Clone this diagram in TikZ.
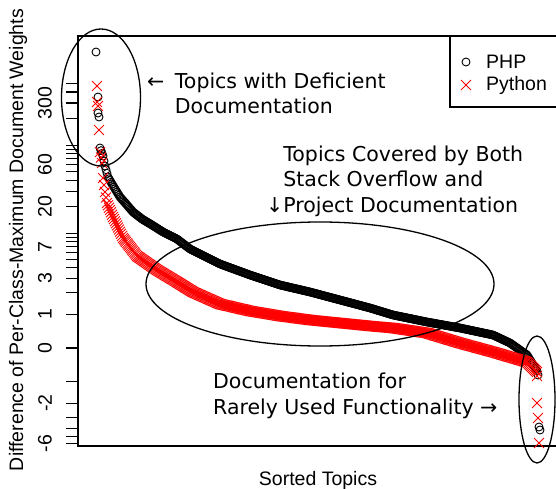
\documentclass[tikz,border=0pt]{standalone}
\usepackage{fontspec}
\setmainfont{Liberation Sans}
\newfontfamily\annofont{DejaVu Sans}
\usetikzlibrary{shapes.misc}

\begin{document}
\begin{tikzpicture}[
  x=1pt, y=-1pt,
  rtext/.style={font=\fontsize{19.5}{23}\selectfont, inner sep=0pt},
  anno/.style={font=\annofont\fontsize{20.5}{25.5}\selectfont, align=left,
               inner sep=0pt, anchor=west},
  phpmark/.style={circle, draw=black, line width=0.9pt, minimum size=8pt, inner sep=0pt},
  pymark/.style={cross out, draw=red, line width=0.9pt, minimum size=9pt, inner sep=0pt},
  plotframe/.style={line width=1.1pt},
  tickline/.style={line width=1.1pt},
  ring/.style={line width=1.3pt},
]
\path[use as bounding box, clip] (0,0) rectangle (556,489);

% axes
\draw[plotframe] (78,36) rectangle (570,446);
\foreach \ty in {83.4,92.0,103.0,118.5,145.1,149.1,153.6,158.7,164.6,171.6,180.2,
                 191.2,206.7,233.2,237.2,241.7,246.7,252.6,259.4,267.8,278.4,292.7,
                 314.2,348,381.8,403.3,417.6,428.2,436.6,443.4}
  \draw[tickline] (66,\ty) -- (78,\ty);
\foreach \ty/\tl in {103/300,164.6/60,206.7/20,246.7/7,278.4/3,314.2/1,348/0,403.3/-2,443.4/-6}
  \node[rtext, rotate=90] at (45,\ty) {\tl};
\node[rtext, rotate=90] (ylab) at (18,240) {Difference of Per-Class-Maximum Document Weights};
\node[rtext] (xlab) at (318,480) {Sorted Topics};

% PHP topics
\foreach \xb/\yb [remember=\xb as \xa (initially 99), remember=\yb as \ya (initially 146)] in
  {100/148,103/156,105/166,108/177,112/184,120/197,127/205,133/212,142/219,152/225,
   163/232,177/239,190/249,200/254,220/264,250/275,280/285,310/292,340/300,370/308,
   393/315,427/322,460/328,493/335,510/343,527/355,537/371}{
  \pgfmathtruncatemacro{\nsteps}{\xb-\xa}
  \foreach \k in {1,...,\nsteps}
    \node[phpmark] at ({\xa+\k},{\ya+(\yb-\ya)*\k/\nsteps}) {};
}
\foreach \px/\py in {96/52,98/97,98/113,99/117,538/375,539/427,540/430}
  \node[phpmark] at (\px,\py) {};

% Python topics
\foreach \xb/\yb [remember=\xb as \xa (initially 99), remember=\yb as \ya (initially 150)] in
  {100/152,102/163,103/178,105/192,107/203,113/217,123/238,137/256,157/270,177/282,
   193/292,220/304,250/311,280/316,310/320,340/323,370/326,393/328,427/333,460/343,
   493/352,510/357,527/362,537/372}{
  \pgfmathtruncatemacro{\nsteps}{\xb-\xa}
  \foreach \k in {1,...,\nsteps}
    \node[pymark] at ({\xa+\k},{\ya+(\yb-\ya)*\k/\nsteps}) {};
}
\foreach \px/\py in {97/86,97/102,98/106,99/130,537/376,537/403,538/418,539/443}
  \node[pymark] at (\px,\py) {};

% legend
\draw[plotframe, fill=white] (450,36) rectangle (570,107);
\node[phpmark] (phpkey) at (466,62) {};
\node[rtext, anchor=west] (phplab) at (486,62) {PHP};
\node[pymark] (pykey) at (466,85) {};
\node[rtext, anchor=west] (pylab) at (486,85) {Python};

% highlighted groups
\draw[ring] (101,97.5) ellipse [x radius=39.5, y radius=68.5];
\draw[ring] (320,284) ellipse [x radius=174, y radius=62];
\draw[ring] (537,399.5) ellipse [x radius=18, y radius=63.5];

\node[anno] (deficient) at (147,93.5)
  {←\hspace{4pt} Topics with Deficient\\\hphantom{←\hspace{4pt}\ }Documentation};
\node[anno] (covered) at (266,181)
  {\hphantom{↓}Topics Covered by Both\\\hphantom{↓}Stack Overflow and\\↓Project Documentation};
\node[anno] (rarely) at (213,396)
  {Documentation for\\Rarely Used Functionality →};
\end{tikzpicture}
\end{document}
